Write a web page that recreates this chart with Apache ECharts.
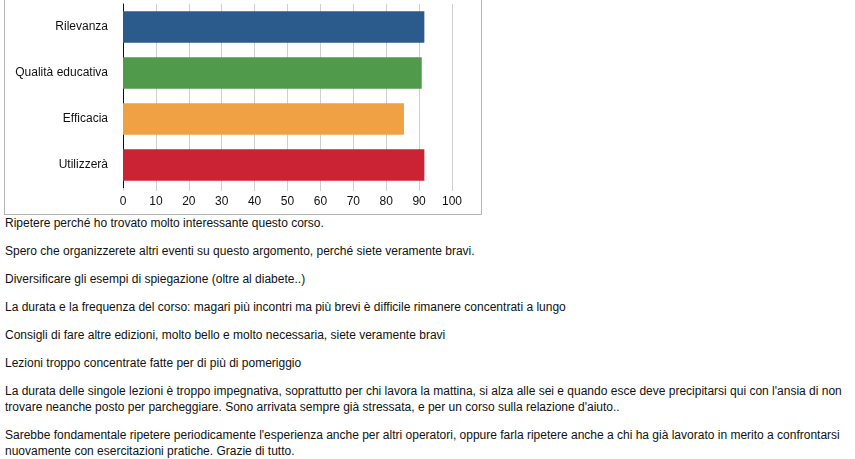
<!DOCTYPE html>
<html>
<head>
<meta charset="utf-8">
<title>Valutazione corso</title>
<style>
body{margin:0;padding:0;font-family:'Liberation Sans',Arial,Helvetica,sans-serif;font-size:12px;color:#111;background:#fff;overflow:hidden;}
#box{position:absolute;left:4px;top:-2px;width:476px;height:215px;border:1px solid #b4b4b4;}
#main{width:476px;height:215px;}
#notes{position:absolute;left:5px;top:215px;width:850px;}
#notes p{margin:0 0 12px 0;line-height:16px;white-space:nowrap;}
</style>
</head>
<body>
<div id="box"><div id="main"></div></div>
<div id="notes">
	<p>Ripetere perché ho trovato molto interessante questo corso.</p>
	<p>Spero che organizzerete altri eventi su questo argomento, perché siete veramente bravi.</p>
	<p>Diversificare gli esempi di spiegazione (oltre al diabete..)</p>
	<p>La durata e la frequenza del corso: magari più incontri ma più brevi è difficile rimanere concentrati a lungo</p>
	<p>Consigli di fare altre edizioni, molto bello e molto necessaria, siete veramente bravi</p>
	<p>Lezioni troppo concentrate fatte per di più di pomeriggio</p>
	<p>La durata delle singole lezioni è troppo impegnativa, soprattutto per chi lavora la mattina, si alza alle sei e quando esce deve precipitarsi qui con l'ansia di non<br>trovare neanche posto per parcheggiare. Sono arrivata sempre già stressata, e per un corso sulla relazione d'aiuto..</p>
	<p>Sarebbe fondamentale ripetere periodicamente l'esperienza anche per altri operatori, oppure farla ripetere anche a chi ha già lavorato in merito a confrontarsi<br>nuovamente con esercitazioni pratiche. Grazie di tutto.</p>
</div>
<script src="https://cdn.jsdelivr.net/npm/echarts@6/dist/echarts.min.js"></script>
<script>
var categories=['Rilevanza','Qualità educativa','Efficacia','Utilizzerà'];
var values=[91.6,90.8,85.4,91.6];
var colors=['#2b5a8d','#4f9a4b','#f0a143','#cc2334'];
var xTicks=[0,10,20,30,40,50,60,70,80,90,100];

var myChart=echarts.init(document.getElementById('main'));
var option={
	animation:false,
	grid:{left:118,right:29,top:5,bottom:26,containLabel:false},
	xAxis:{
		type:'value',
		min:xTicks[0],
		max:xTicks[xTicks.length-1],
		interval:10,
		axisLine:{show:false},
		axisTick:{show:true,length:3,lineStyle:{color:'#cfcfcf'}},
		axisLabel:{color:'#111',fontSize:12,fontFamily:'Liberation Sans',margin:8},
		splitLine:{show:true,lineStyle:{color:'#cfcfcf',width:1}}
	},
	yAxis:{
		type:'category',
		inverse:true,
		data:categories,
		axisLine:{show:true,lineStyle:{color:'#111',width:1}},
		axisTick:{show:false},
		axisLabel:{color:'#111',fontSize:12,fontFamily:'Liberation Sans',margin:15}
	},
	series:[{
		type:'bar',
		barCategoryGap:'32%',
		data:values.map(function(v,i){return {value:v,itemStyle:{color:colors[i]}};})
	}]
};
myChart.setOption(option);
</script>
</body>
</html>
